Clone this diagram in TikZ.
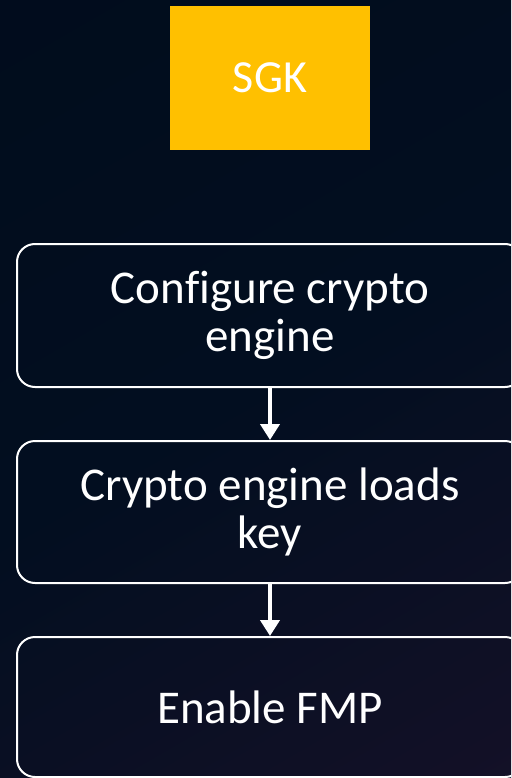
\documentclass[tikz,border=0pt]{standalone}
\usepackage{fontspec}
\setmainfont{Carlito}[Ligatures={NoCommon}]
\usetikzlibrary{arrows.meta}
\definecolor{bgtop}{RGB}{1,12,28}
\definecolor{bgmid}{RGB}{2,14,32}
\definecolor{bgbot}{RGB}{22,17,40}
\definecolor{sgkyellow}{RGB}{255,192,0}
\tikzset{
  stepbox/.style={draw=white, line width=2pt, rounded corners=18pt,
    minimum width=506pt, align=center,
    text=white, font=\fontsize{47}{48}\selectfont, inner sep=0pt},
  flowarrow/.style={draw=white, line width=4pt,
    -{Triangle[width=19pt,length=16pt]}},
}
\begin{document}
\begin{tikzpicture}[x=1pt,y=-1pt]
  \useasboundingbox (0,0) rectangle (511,778);
  \clip (0,0) rectangle (511,778);
  % background gradient, dark navy drifting to violet at the lower right
  \shade[shading=axis, top color=bgtop, bottom color=bgbot, middle color=bgmid, shading angle=30]
    (-200,-200) rectangle (711,978);
  % key source
  \node[fill=sgkyellow, minimum width=200pt, minimum height=144pt,
        text=white, font=\fontsize{46}{50}\selectfont, inner sep=0pt]
    (sgk) at (270,78) {SGK};
  % flow steps
  \node[stepbox, minimum height=143pt] (cfg) at (270,315.5) {Configure crypto\\engine};
  \node[stepbox, minimum height=142pt] (load) at (270,512) {Crypto engine loads\\key};
  \node[stepbox, minimum height=140pt] (fmp) at (270,707) {Enable FMP};
  \draw[flowarrow] (cfg) -- (load);
  \draw[flowarrow] (load) -- (fmp);
\end{tikzpicture}
\end{document}
